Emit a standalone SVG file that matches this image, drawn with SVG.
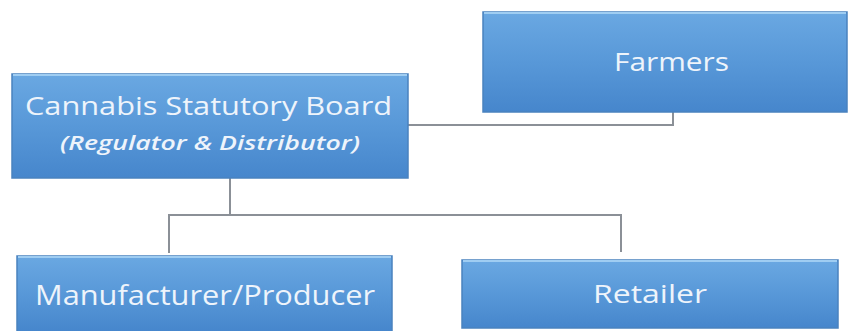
<svg xmlns="http://www.w3.org/2000/svg" width="851" height="331" viewBox="0 0 851 331">
  <defs>
    <linearGradient id="boxFill" x1="0" y1="0" x2="0" y2="1">
      <stop offset="0" stop-color="#6aa8e2"/>
      <stop offset="0.5" stop-color="#5898d8"/>
      <stop offset="1" stop-color="#4686cc"/>
    </linearGradient>
  </defs>
  <style>
    .box { fill: url(#boxFill); stroke: #4a82bf; stroke-width: 1.5; }
    .hl { fill: none; stroke: #9fcdf2; stroke-width: 2; }
    .lbl { font-family: "Open Sans", "Liberation Sans", sans-serif; fill: #eef4fb; text-anchor: start; }
    .sub { font-style: italic; font-weight: 600; }
    .link { fill: none; stroke: #8b9097; stroke-width: 2; }
  </style>

  <rect width="851" height="331" fill="#ffffff"/>

  <!-- connectors -->
  <g id="connectors">
    <polyline class="link" points="408,125 673,125 673,112"/>
    <polyline class="link" points="230,178 230,215"/>
    <polyline class="link" points="169,253 169,215 621,215 621,252"/>
  </g>

  <g id="farmers">
    <rect class="box" x="483" y="12" width="364" height="100"/>
    <line class="hl" x1="484" y1="13" x2="846" y2="13"/>
    <text class="lbl" x="614" y="71" font-size="25" textLength="115" lengthAdjust="spacingAndGlyphs">Farmers</text>
  </g>

  <g id="board">
    <rect class="box" x="12" y="74" width="396" height="104"/>
    <line class="hl" x1="13" y1="75" x2="407" y2="75"/>
    <text class="lbl" x="25" y="115" font-size="26" textLength="367" lengthAdjust="spacingAndGlyphs">Cannabis Statutory Board</text>
    <text class="lbl sub" x="60" y="150" font-size="19" textLength="300" lengthAdjust="spacingAndGlyphs">(Regulator &amp; Distributor)</text>
  </g>

  <g id="manufacturer">
    <rect class="box" x="17" y="256" width="375" height="76"/>
    <line class="hl" x1="18" y1="257" x2="391" y2="257"/>
    <text class="lbl" x="35" y="305" font-size="27" textLength="340" lengthAdjust="spacingAndGlyphs">Manufacturer/Producer</text>
  </g>

  <g id="retailer">
    <rect class="box" x="462" y="260" width="376" height="68"/>
    <line class="hl" x1="463" y1="261" x2="837" y2="261"/>
    <text class="lbl" x="593" y="303" font-size="26" textLength="114" lengthAdjust="spacingAndGlyphs">Retailer</text>
  </g>
</svg>
